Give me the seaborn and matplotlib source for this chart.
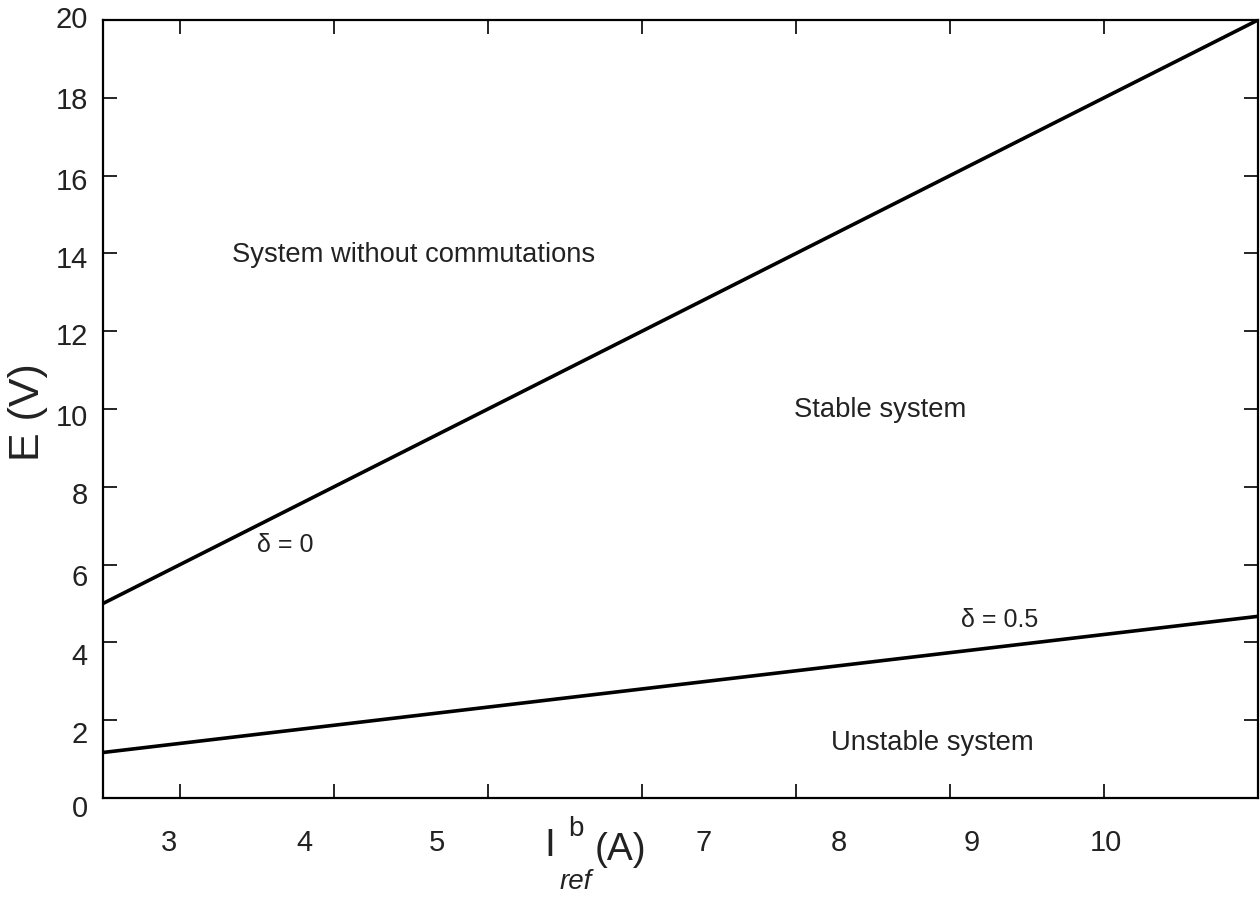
import matplotlib
matplotlib.use("Agg")
import matplotlib.pyplot as plt
import matplotlib.transforms as mtransforms
import seaborn as sns
import pandas as pd

# stability boundaries E(I_ref^b)
i_ref = [2.5, 10.0]
e_delta0 = [5.0, 20.0]
e_delta05 = [1.17, 4.67]

# overlaid tick label texts (they do not sit on the ticks in the original)
x_labels = ['3', '4', '5', '7', '8', '9', '10']
x_label_pos = [2.93, 3.81, 4.67, 6.40, 7.28, 8.14, 9.01]
y_labels = ['20', '18', '16', '14', '12', '10', '8', '6', '4', '2', '0']
y_label_pos = [20.0, 17.92, 15.84, 13.83, 11.85, 9.77, 7.76, 5.66, 3.62, 1.62, -0.28]

df = pd.DataFrame({
    'I': i_ref + i_ref,
    'E': e_delta0 + e_delta05,
    'delta': ['0'] * len(i_ref) + ['0.5'] * len(i_ref),
})

sns.set_style("white")
plt.rcParams['font.family'] = ['Liberation Sans', 'DejaVu Sans']

fig = plt.figure(figsize=(12.6, 8.97), dpi=100)
ax = fig.add_axes([103 / 1260, 99 / 897, 1155 / 1260, 778 / 897])

sns.lineplot(data=df, x='I', y='E', hue='delta', palette=['black', 'black'],
             linewidth=2.6, legend=False, ax=ax)

ax.set_xlim(2.5, 10)
ax.set_ylim(0, 20)
ax.set_xticks(range(3, 10))
ax.set_xticklabels([])
ax.set_yticks(range(0, 21, 2))
ax.set_yticklabels([])
ax.tick_params(direction='in', length=10, width=1.2, top=True, right=True,
               bottom=True, left=True, color='black')
for s in ax.spines.values():
    s.set_linewidth(1.6)
    s.set_color('black')
ax.set_xlabel('')
ax.set_ylabel('')

bx = mtransforms.blended_transform_factory(ax.transData, ax.transAxes)
for lab, pos in zip(x_labels, x_label_pos):
    ax.text(pos, -0.058, lab, transform=bx, ha='center', va='center',
            fontsize=21, color='#222222', clip_on=False)
by = mtransforms.blended_transform_factory(ax.transAxes, ax.transData)
for lab, pos in zip(y_labels, y_label_pos):
    ax.text(-0.013, pos, lab, transform=by, ha='right', va='center',
            fontsize=21, color='#222222', clip_on=False)

# axis titles
fig.text(28 / 1260, 1 - 412 / 897, 'E (V)', rotation=90, ha='center', va='center',
         fontsize=31, color='#222222')
fig.text(550 / 1260, 1 - 846 / 897, 'I', ha='center', va='center', fontsize=28, color='#222222')
fig.text(576 / 1260, 1 - 829 / 897, 'b', ha='center', va='center', fontsize=20, color='#222222')
fig.text(620 / 1260, 1 - 850 / 897, '(A)', ha='center', va='center', fontsize=28, color='#222222')
fig.text(576 / 1260, 1 - 882 / 897, 'ref', ha='center', va='center', fontsize=20,
         style='italic', color='#222222')

# region labels
ax.text(3.34, 13.78, 'System without commutations', fontsize=19.7, va='baseline', color='#222222')
ax.text(6.99, 9.79, 'Stable system', fontsize=19.7, va='baseline', color='#222222')
ax.text(7.23, 1.23, 'Unstable system', fontsize=19.7, va='baseline', color='#222222')
ax.text(3.5, 6.32, 'δ = 0', fontsize=18, va='baseline', color='#222222')
ax.text(8.07, 4.40, 'δ = 0.5', fontsize=18, va='baseline', color='#222222')

fig.savefig('out.png', dpi=100)
